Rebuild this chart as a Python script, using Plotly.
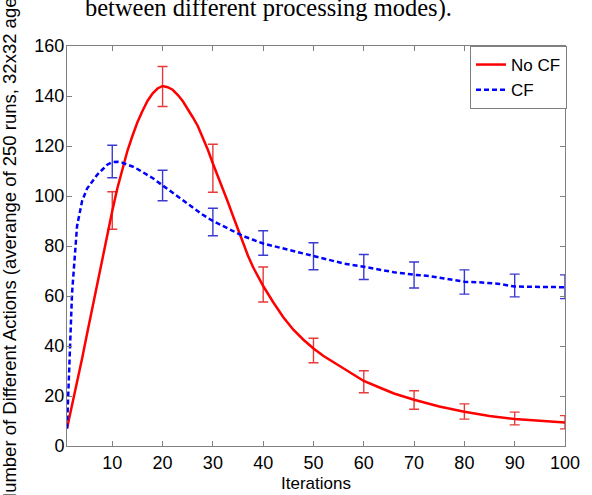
import plotly.graph_objects as go

# ---- data ----
no_cf_x = [1, 2, 3, 4, 5, 6, 7, 8, 9, 10, 11, 12, 13, 14, 15, 16, 17, 18, 19, 20,
           21, 22, 23, 24, 25, 26, 27, 28, 29, 30, 31, 32, 33, 34, 35, 36, 37, 38, 39, 40,
           42, 44, 46, 48, 50, 52, 54, 56, 58, 60, 63, 66, 70, 75, 80, 85, 90, 95, 100]
no_cf_y = [7, 16, 26, 35, 45, 55, 65, 75, 85, 94, 103, 111, 118, 124, 129.5, 134, 138, 141, 143, 144,
           143.5, 142.5, 140.5, 138, 135, 131.5, 128, 123.5, 118.5, 113, 108, 103, 97.5, 92, 86.5, 81, 76, 71.5, 67.5, 64,
           57.5, 51.5, 46.5, 42.5, 39, 36, 33.5, 31, 28.5, 26, 23.5, 21, 18.5, 15.8, 13.7, 12, 10.8, 10, 9.4]

cf_x = [1, 2, 3, 4, 5, 6, 7, 8, 9, 10, 11, 12, 13, 14, 15, 16, 17, 18, 19, 20,
        22, 24, 26, 28, 30, 32, 34, 36, 38, 40, 42, 44, 46, 48, 50, 53, 56, 60, 63, 66,
        70, 73, 76, 80, 83, 85, 87, 90, 93, 96, 100]
cf_y = [7, 61, 88, 98, 103, 106, 108.5, 110.5, 112.5, 113.5, 113.7, 113.3, 112.6, 111.8, 110.8, 109.7, 108.5, 107.2, 105.7, 104.2,
        101.5, 98.5, 95.5, 92.5, 90, 88, 86, 84, 82.5, 81, 80, 79, 78, 77, 76, 74.5, 73, 71.7, 70.5, 69.5,
        68.5, 68, 67, 65.7, 65.5, 65.2, 64.8, 63.8, 63.7, 63.5, 63.5]

err_x = [10, 20, 30, 40, 50, 60, 70, 80, 90, 100]
no_cf_err_mean = [94.2, 143.8, 111.1, 64.6, 38.2, 25.7, 18.4, 13.8, 11.0, 9.5]
no_cf_err = [7.5, 8.0, 9.6, 7.0, 4.9, 4.4, 3.7, 3.05, 2.55, 2.65]
cf_err_mean = [113.8, 104.2, 89.6, 81.2, 75.9, 71.6, 68.4, 65.6, 64.2, 63.7]
cf_err = [6.5, 6.1, 5.5, 4.9, 5.4, 5.0, 5.2, 4.85, 4.55, 4.75]

x_ticks = [10, 20, 30, 40, 50, 60, 70, 80, 90, 100]
y_ticks = [0, 20, 40, 60, 80, 100, 120, 140, 160]

FONT = "Arial, Liberation Sans, sans-serif"
GRAY = "#808080"

fig = go.Figure()

fig.add_trace(go.Scatter(
    x=err_x, y=no_cf_err_mean, mode="markers", showlegend=False, hoverinfo="skip",
    marker=dict(size=1, opacity=0, color="#e83a3a"),
    error_y=dict(type="data", array=no_cf_err, color="#e83a3a", thickness=1.4, width=5)))
fig.add_trace(go.Scatter(
    x=err_x, y=cf_err_mean, mode="markers", showlegend=False, hoverinfo="skip",
    marker=dict(size=1, opacity=0, color="#3a3ad0"),
    error_y=dict(type="data", array=cf_err, color="#3a3ad0", thickness=1.4, width=5)))

fig.add_trace(go.Scatter(
    x=no_cf_x, y=no_cf_y, mode="lines", name="No CF",
    line=dict(color="#ff0000", width=2.5)))
fig.add_trace(go.Scatter(
    x=cf_x, y=cf_y, mode="lines", name="CF",
    line=dict(color="#0000ff", width=2.5, dash="5px,3px")))

axis_common = dict(
    showline=True, linecolor=GRAY, linewidth=1, mirror="ticks",
    ticks="inside", ticklen=5, tickcolor=GRAY, tickwidth=1,
    showgrid=False, zeroline=False,
    tickfont=dict(family=FONT, size=18, color="black"),
)

fig.update_layout(
    width=592, height=495,
    margin=dict(l=67, r=18, t=46, b=49),
    paper_bgcolor="white", plot_bgcolor="white",
    font=dict(family=FONT, color="black"),
    xaxis=dict(range=[1, 100], tickvals=x_ticks, ticktext=[str(v) for v in x_ticks],
               **axis_common),
    yaxis=dict(range=[0, 160], tickvals=y_ticks, ticktext=[str(v) for v in y_ticks],
               ticklabelstandoff=-2, **axis_common),
    legend=dict(x=1.004, xanchor="right", y=1.0, yanchor="top",
                bgcolor="white", bordercolor=GRAY, borderwidth=1,
                font=dict(family=FONT, size=17), tracegroupgap=0),
    annotations=[
        dict(text="Number of Different Actions (averange of 250 runs, 32x32 agents)",
             xref="paper", yref="paper", x=-0.116, y=0.525, xanchor="center", yanchor="middle",
             textangle=-90, showarrow=False, font=dict(family=FONT, size=18.5)),
        dict(text="Iterations",
             xref="paper", yref="paper", x=0.5, y=-0.0925, xanchor="center", yanchor="middle",
             showarrow=False, font=dict(family=FONT, size=17)),
        dict(text="between different processing modes).",
             xref="paper", yref="paper", x=0.032, y=1.095, xanchor="left", yanchor="middle",
             showarrow=False, font=dict(family="Liberation Serif, Times New Roman, serif", size=24.5)),
    ],
)

fig.write_html("out.html", config={"displayModeBar": False},
               post_script="document.body.style.margin='0';document.body.style.overflow='hidden';")
